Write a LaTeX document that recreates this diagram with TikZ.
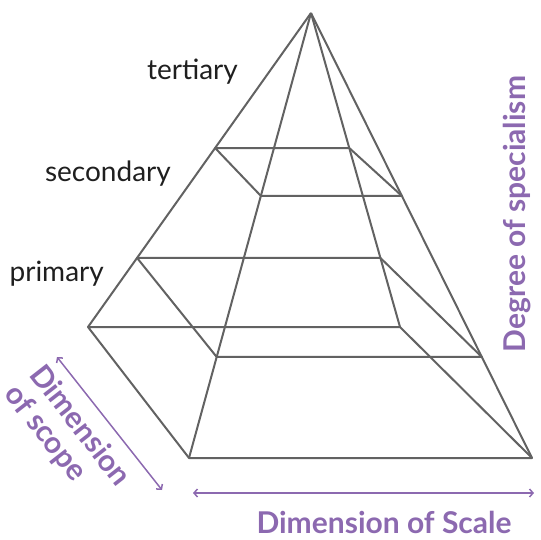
\documentclass[tikz,border=0pt]{standalone}
\usepackage{fontspec}
\setmainfont{Lato}
\usetikzlibrary{arrows.meta,calc}
\definecolor{dimpurple}{HTML}{8C69B0}
\definecolor{wire}{HTML}{626262}

\begin{document}
\begin{tikzpicture}[
    x=1pt, y=-1pt,
    edge/.style={draw=wire, line width=2pt, line join=round},
    tier/.style={anchor=base east, font=\fontsize{28}{31}\selectfont, text=black!88, inner sep=0pt},
    dimlabel/.style={font=\bfseries\fontsize{30}{32}\selectfont, text=dimpurple, inner sep=0pt},
    dimarrow/.style={{Straight Barb[length=3.5pt,width=8pt]}-{Straight Barb[length=3.5pt,width=8pt]}, draw=dimpurple, line width=1.5pt},
]
\useasboundingbox (0,0) rectangle (541,540);

% Apex and base corners
\coordinate (apex) at (311,13);
\coordinate (bl) at (88,327);
\coordinate (br) at (400,327);
\coordinate (fr) at (532,458);
\coordinate (fl) at (189,458);

% Base and edges to the apex
\draw[edge] (bl) -- (br) -- (fr) -- (fl) -- cycle;
\foreach \c in {bl,br,fr,fl}
    \draw[edge] (apex) -- (\c);

% Level planes (back / front fractions)
\foreach \tb/\tf in {0.43/0.411, 0.78/0.773}
    \draw[edge] ($(apex)!\tb!(bl)$) -- ($(apex)!\tb!(br)$) -- ($(apex)!\tf!(fr)$) -- ($(apex)!\tf!(fl)$) -- cycle;

% Tier labels
\node[tier] (tertiary) at (238,80) {tertiary};
\node[tier] (secondary) at (171,182) {secondary};
\node[tier] (primary) at (104,282) {primary};

% Dimension arrows
\coordinate (scopeA) at (57,357);
\coordinate (scopeB) at (162,490);
\coordinate (scaleA) at (193,493);
\coordinate (scaleB) at (534,493);
\draw[dimarrow] (scopeA) -- (scopeB);
\draw[dimarrow] (scaleA) -- (scaleB);

% Dimension labels
\node[dimlabel, anchor=base] (scale) at (384,533) {Dimension of Scale};
\node[dimlabel, rotate=90, anchor=base] (special) at (525,214) {Degree of specialism};
\node[dimlabel, rotate=-52, align=left] (scope) at (67,436) {Dimension\\of scope};

\end{tikzpicture}
\end{document}
